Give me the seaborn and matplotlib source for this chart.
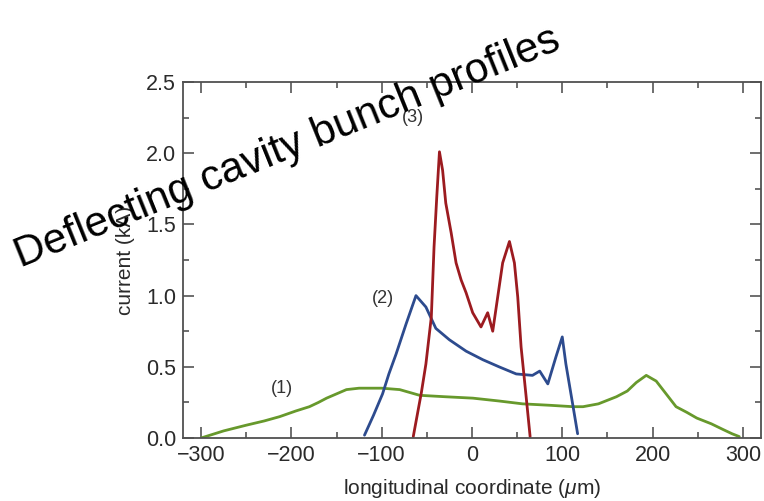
import numpy as np
import pandas as pd
import matplotlib
matplotlib.use("Agg")
import matplotlib.pyplot as plt
import seaborn as sns
from matplotlib.ticker import MultipleLocator

# ---- data ----
x1 = [-300, -275, -250, -230, -213, -195, -180, -170, -161, -150, -139, -125, -110, -100, -80,
      -58, -30, 1, 30, 56, 86, 112, 123, 140, 160, 172, 182, 193, 204, 215, 226, 238, 249, 265, 278, 288, 296]
y1 = [0.00, 0.05, 0.09, 0.12, 0.15, 0.19, 0.22, 0.25, 0.28, 0.31, 0.34, 0.35, 0.35, 0.35, 0.34,
      0.30, 0.29, 0.28, 0.26, 0.24, 0.23, 0.22, 0.22, 0.24, 0.29, 0.33, 0.39, 0.44, 0.40, 0.31, 0.22, 0.18, 0.14, 0.10, 0.06, 0.03, 0.01]

x2 = [-119, -109, -99, -92, -84, -73, -62, -51, -40, -25, -6.5, 12, 30, 49, 67, 75, 84, 93, 100, 104, 112, 117]
y2 = [0.02, 0.16, 0.31, 0.45, 0.59, 0.80, 1.00, 0.92, 0.77, 0.69, 0.61, 0.55, 0.50, 0.45, 0.44, 0.47, 0.38, 0.57, 0.71, 0.52, 0.22, 0.03]

x3 = [-65, -56, -51, -45, -42, -39, -36, -32.5, -29, -23, -17.6, -12, -6.5, 0.8, 10, 17.4, 23, 28.5,
      34, 41.5, 47, 50.7, 54.4, 60, 64.4]
y3 = [0.01, 0.32, 0.52, 0.85, 1.34, 1.69, 2.01, 1.88, 1.65, 1.44, 1.23, 1.11, 1.02, 0.88, 0.78, 0.88, 0.75, 0.99,
      1.23, 1.38, 1.23, 0.99, 0.64, 0.29, 0.01]

labels = ["(1)", "(2)", "(3)"]
label_x = [-210, -99, -65]
label_y = [0.35, 0.98, 2.25]

xticks = [-300, -200, -100, 0, 100, 200, 300]
yticks = [0.0, 0.5, 1.0, 1.5, 2.0, 2.5]

colors = {"(1)": "#67992c", "(2)": "#2d4b8e", "(3)": "#9c1b20"}

df = pd.concat([
    pd.DataFrame({"x": x1, "y": y1, "profile": "(1)"}),
    pd.DataFrame({"x": x2, "y": y2, "profile": "(2)"}),
    pd.DataFrame({"x": x3, "y": y3, "profile": "(3)"}),
], ignore_index=True)

sns.set_style("ticks")
plt.rcParams["font.family"] = ["Liberation Sans", "DejaVu Sans"]
plt.rcParams["mathtext.fontset"] = "custom"
plt.rcParams["mathtext.it"] = "Liberation Sans:italic"

fig = plt.figure(figsize=(7.64, 5.01), dpi=100)
ax = fig.add_axes([0.2395, 0.1257, 0.7565, 0.7106])

sns.lineplot(data=df, x="x", y="y", hue="profile", palette=colors, sort=False,
             estimator=None, linewidth=2.0, legend=False, ax=ax)

ax.set_xlim(-320, 320)
ax.set_ylim(0, 2.5)
ax.set_xticks(xticks)
ax.set_yticks(yticks)
ax.set_xticklabels(["\u2212300", "\u2212200", "\u2212100", "0", "100", "200", "300"])
ax.set_yticklabels([f"{v:.1f}" for v in yticks])
ax.xaxis.set_minor_locator(MultipleLocator(50))
ax.yaxis.set_minor_locator(MultipleLocator(0.25))
ax.tick_params(which="both", direction="in", top=True, right=True, color="#555555",
               labelcolor="#2a2a2a", labelsize=15.5, width=1.2)
ax.tick_params(which="major", length=8, pad=5)
ax.tick_params(which="minor", length=4.5)
for s in ax.spines.values():
    s.set_color("#505050")
    s.set_linewidth(1.3)

ax.set_xlabel(r"longitudinal coordinate ($\mu$m)", fontsize=15, color="#2a2a2a", labelpad=8)
ax.set_ylabel("current (kA)", fontsize=15, color="#2a2a2a", labelpad=8)

for t, lx, ly in zip(labels, label_x, label_y):
    ax.text(lx, ly, t, fontsize=13, color="#333333", ha="center", va="center")

fig.text(0.382, 0.684, "Deflecting cavity bunch profiles", fontsize=30.5, rotation=22,
         rotation_mode="anchor", ha="center", va="baseline", color="black")

fig.savefig("out.png", dpi=100)
